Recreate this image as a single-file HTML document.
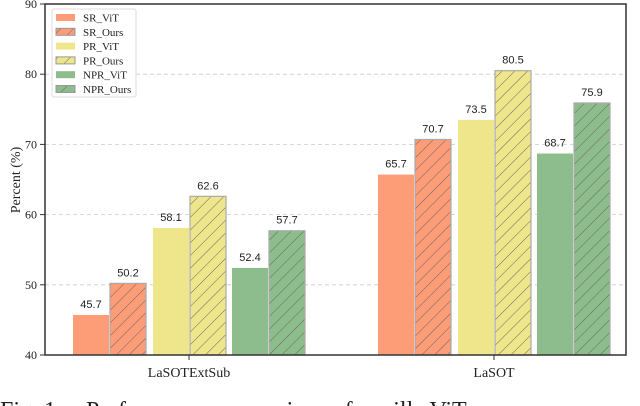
<!DOCTYPE html>
<html><head><meta charset="utf-8"><style>
body{margin:0;background:#fff;width:640px;height:406px;overflow:hidden}
svg{display:block;font-family:"Liberation Serif","DejaVu Serif",serif}
</style></head><body>
<svg id="chart" width="640" height="406">
<defs>
<pattern id="hatch" patternUnits="userSpaceOnUse" width="9" height="9" patternTransform="rotate(45)">
<line x1="0" y1="0" x2="0" y2="9" stroke="#666" stroke-width="1"/></pattern>
</defs>
<g id="grid"></g>
<g id="bars"></g>
<g id="axes"></g>
<g id="legend"></g>
<text x="0" y="418" font-size="24" fill="#222" style="white-space:pre">Fig. 1.    Performance comparison of vanilla ViT</text>
</svg>
<script>
const categories=["LaSOTExtSub","LaSOT"];
const seriesNames=["SR_ViT","SR_Ours","PR_ViT","PR_Ours","NPR_ViT","NPR_Ours"];
const srVit=[45.7,65.7];
const srOurs=[50.2,70.7];
const prVit=[58.1,73.5];
const prOurs=[62.6,80.5];
const nprVit=[52.4,68.7];
const nprOurs=[57.7,75.9];
const yTicks=[40,50,60,70,80,90];
const series=[srVit,srOurs,prVit,prOurs,nprVit,nprOurs];
const colors=["#fc9d77","#fc9d77","#efe68c","#efe68c","#8dbd8c","#8dbd8c"];
const NS="http://www.w3.org/2000/svg";
const X0=45,X1=626,Y0=355,Y1=4;
const y=v=>Y0-(v-40)/(90-40)*(Y0-Y1);
const groupX=i=>189+i*305;
const offsets=[-116,-79,-36,1,43,80];
const BW=36;
function mk(t,a,p){const e=document.createElementNS(NS,t);for(const k in a)e.setAttribute(k,a[k]);p.appendChild(e);return e;}
const grid=document.getElementById('grid'),bars=document.getElementById('bars'),axes=document.getElementById('axes'),leg=document.getElementById('legend');
yTicks.forEach(t=>{
 if(t>40&&t<90){const l=mk('line',{x1:X0,x2:X1,y1:y(t),y2:y(t),stroke:'#ccc','stroke-dasharray':'4,3','stroke-width':0.8},grid);
 
 }
 const tl=mk('line',{x1:X0-5,x2:X0,y1:y(t),y2:y(t),stroke:'#333'},axes);
 
 
 const tx=mk('text',{x:X0-8,y:y(t)+4,'text-anchor':'end','font-size':12,fill:'#222'},axes);
 tx.textContent=t;
 
 
});
series.forEach((vals,s)=>{
 vals.forEach((v,i)=>{
  const x=groupX(i)+offsets[s];
  const r=mk('rect',{x:x,y:y(v),width:BW,height:Y0-y(v),fill:colors[s]},bars);
  
  
  if(s%2==1){const h=mk('rect',{x:x,y:y(v),width:BW,height:Y0-y(v),fill:'url(#hatch)',stroke:'#aaa','stroke-width':1.2},bars);
   
   }
  const lb=mk('text',{x:x+BW/2,y:y(v)-7,'text-anchor':'middle','font-size':11,fill:'#222','font-family':'Liberation Sans, sans-serif'},bars);
  lb.textContent=v.toFixed(1);
  
  
 });
});
const fr=mk('rect',{x:X0,y:Y1,width:X1-X0,height:Y0-Y1,fill:'none',stroke:'#333','stroke-width':1.5},axes);


categories.forEach((c,i)=>{
 const tl=mk('line',{x1:groupX(i),x2:groupX(i),y1:Y0,y2:Y0+5,stroke:'#333'},axes);
 
 
 const t=mk('text',{x:groupX(i),y:Y0+22,'text-anchor':'middle','font-size':14,fill:'#222'},axes);
 t.textContent=c;
 
 
});
const yl=mk('text',{x:0,y:0,transform:'translate(20,180) rotate(-90)','text-anchor':'middle','font-size':14,fill:'#222'},axes);
yl.textContent='Percent (%)';


const lb=mk('rect',{x:52,y:9,width:84,height:88,fill:'#fff',stroke:'#ddd',rx:2},leg);


seriesNames.forEach((n,s)=>{
 const yy=14+s*14.3;
 const sw=mk('rect',{x:56,y:yy,width:19,height:7,fill:colors[s]},leg);
 
 
 if(s%2==1){const h=mk('rect',{x:56,y:yy,width:19,height:7,fill:'url(#hatch)',stroke:'#999'},leg);
  
  }
 const t=mk('text',{x:83,y:yy+7.5,'font-size':11,fill:'#222'},leg);
 t.textContent=n;
 
 
});
</script>
</body></html>
